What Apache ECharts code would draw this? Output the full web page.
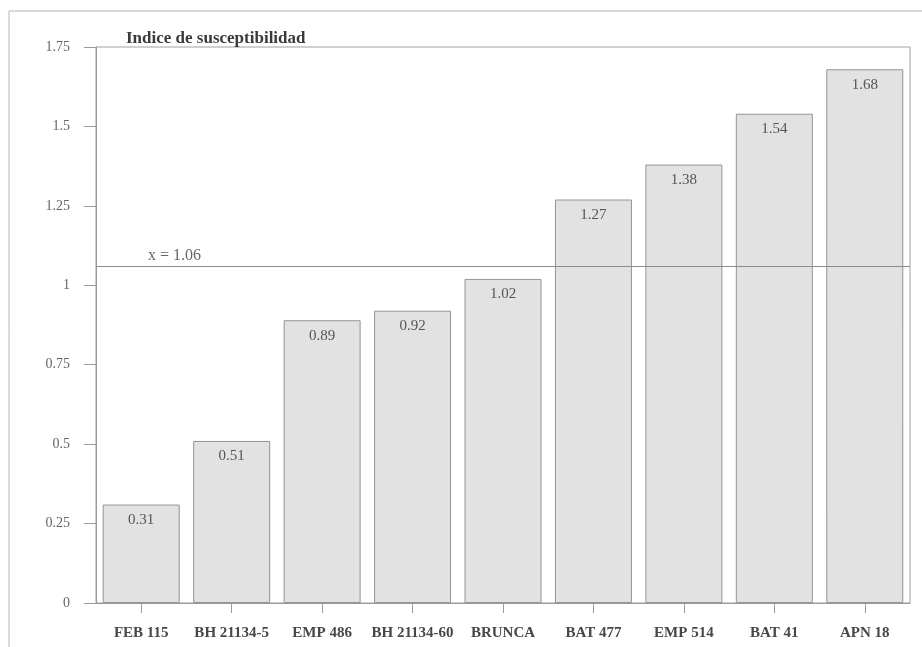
<!DOCTYPE html>
<html>
<head>
<meta charset="utf-8">
<script src="https://cdn.jsdelivr.net/npm/echarts@6/dist/echarts.min.js"></script>
<style>
  html, body { margin: 0; padding: 0; background: #fff; }
  #chart { width: 922px; height: 647px; }
</style>
</head>
<body>
<div id="chart"></div>
<script>
// Susceptibility index per line / variety
const categories = ['FEB 115', 'BH 21134-5', 'EMP 486', 'BH 21134-60', 'BRUNCA', 'BAT 477', 'EMP 514', 'BAT 41', 'APN 18'];
const indexValues = [0.31, 0.51, 0.89, 0.92, 1.02, 1.27, 1.38, 1.54, 1.68];
const meanValue = 1.06;
const yTicks = [0, 0.25, 0.5, 0.75, 1, 1.25, 1.5, 1.75];
const titleText = 'Indice de susceptibilidad';
const meanLabel = 'x = 1.06';

const serif = '"Liberation Serif", "DejaVu Serif", serif';
const chart = echarts.init(document.getElementById('chart'));

chart.setOption({
  animation: false,
  backgroundColor: '#ffffff',
  title: {
    text: titleText,
    left: 121,
    top: 25,
    textStyle: { fontFamily: serif, fontWeight: 'bold', fontSize: 17, color: '#3a3a3a' }
  },
  grid: {
    left: 96, right: 12, top: 47, bottom: 44,
    show: true, borderColor: '#a0a0a0', borderWidth: 1, backgroundColor: 'transparent'
  },
  graphic: [{
    type: 'rect',
    shape: { x: 9, y: 11, width: 920, height: 650 },
    style: { fill: 'none', stroke: '#b5b5b5', lineWidth: 1 },
    silent: true
  }],
  xAxis: {
    type: 'category',
    data: categories,
    axisLine: { lineStyle: { color: '#999' } },
    axisTick: { show: true, alignWithLabel: true, length: 10, lineStyle: { color: '#999' } },
    axisLabel: { fontFamily: serif, fontWeight: 'bold', fontSize: 15, color: '#474747', margin: 23, interval: 0 }
  },
  yAxis: {
    type: 'value',
    min: yTicks[0],
    max: yTicks[yTicks.length - 1],
    interval: 0.25,
    axisLine: { show: true, lineStyle: { color: '#999' } },
    axisTick: { show: true, inside: false, length: 12, lineStyle: { color: '#999' } },
    splitLine: { show: false },
    axisLabel: {
      fontFamily: serif, fontSize: 14, color: '#666', margin: 26,
      formatter: v => String(v)
    }
  },
  series: [{
    type: 'bar',
    data: indexValues,
    barWidth: 77,
    itemStyle: { color: '#e2e2e2', borderColor: '#949494', borderWidth: 1 },
    label: {
      show: true,
      position: 'insideTop',
      distance: 8,
      fontFamily: serif, fontSize: 15, color: '#555',
      formatter: p => p.value.toFixed(2)
    },
    markLine: {
      silent: true,
      symbol: 'none',
      lineStyle: { color: '#8c8c8c', type: 'solid', width: 1 },
      label: {
        show: true,
        position: 'insideStartTop',
        formatter: meanLabel,
        fontFamily: serif, fontSize: 16, color: '#666',
        padding: [0, 0, 0, 50],
        distance: 2
      },
      data: [{ yAxis: meanValue }]
    }
  }]
});
</script>
</body>
</html>
